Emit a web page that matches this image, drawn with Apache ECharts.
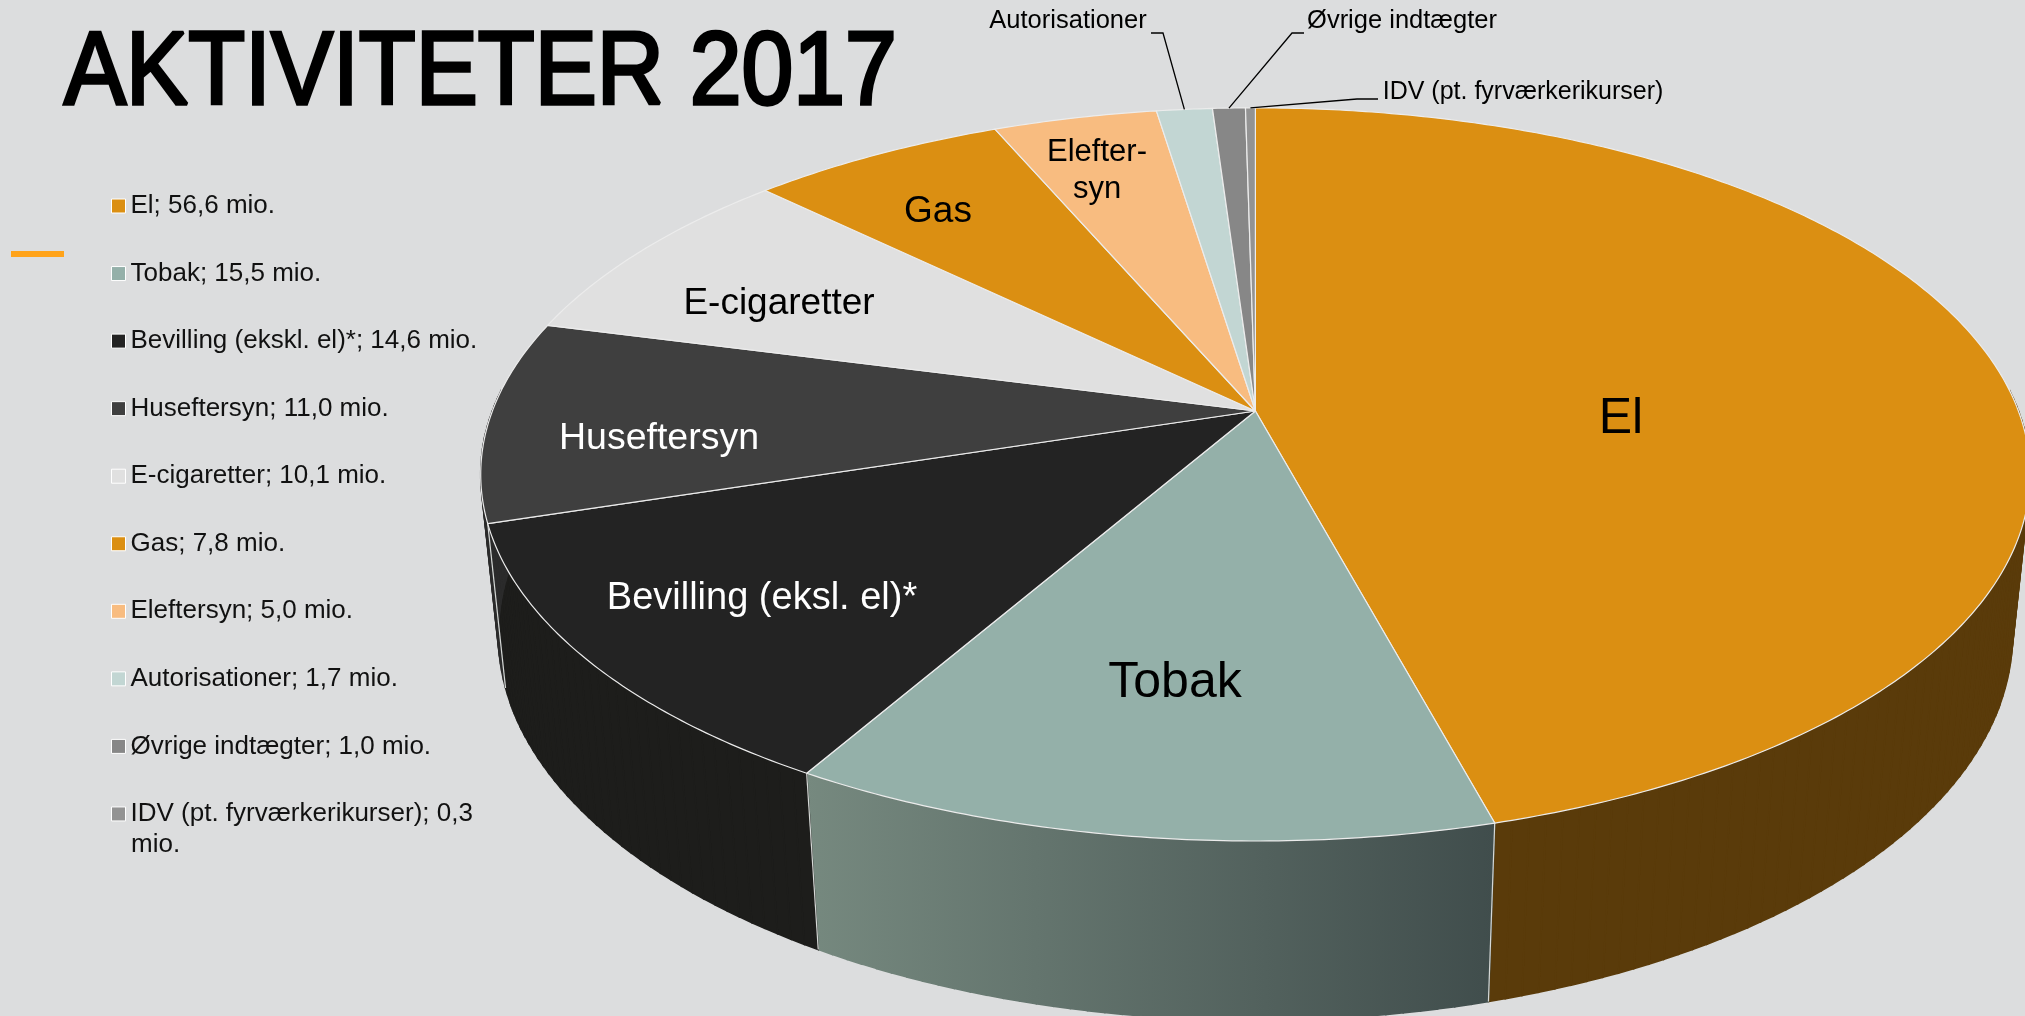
<!DOCTYPE html>
<html>
<head>
<meta charset="utf-8">
<title>Aktiviteter 2017</title>
<script src="https://cdn.jsdelivr.net/npm/echarts@6/dist/echarts.min.js"></script>
<style>
    html, body { margin: 0; padding: 0; background: #dcddde; }
    #chart { width: 2025px; height: 1016px; }
</style>
</head>
<body>
<div id="chart"></div>
<script>
// Chart data
const categories = ['El', 'Tobak', 'Bevilling (ekskl. el)*', 'Huseftersyn', 'E-cigaretter', 'Gas', 'Eleftersyn', 'Autorisationer', 'Øvrige indtægter', 'IDV (pt. fyrværkerikurser)'];
const values = [56.6, 15.5, 14.6, 11.0, 10.1, 7.8, 5.0, 1.7, 1.0, 0.3];
const sliceLabels = ['El', 'Tobak', 'Bevilling (eksl. el)*', 'Huseftersyn', 'E-cigaretter', 'Gas', 'Elefter-\nsyn', 'Autorisationer', 'Øvrige indtægter', 'IDV (pt. fyrværkerikurser)'];

// Styles
const topColors = ['#db8f12', '#94b0a9', '#232323', '#3f3f3f', '#e0e0e0', '#db8f12', '#f8bc80', '#c2d6d3', '#878787', '#939393'];
const wallColors = ['#5a3b0a', null, '#1d1d1b', '#2b2b2b', '#8f8f8f', '#5a3b0a', '#7c5e40', '#61706d', '#444444', '#494949'];
const labelColors = ['#000', '#000', '#fff', '#fff', '#000', '#000', '#000', '#000', '#000', '#000'];
const labelSizes = [50, 50, 38, 37.5, 37, 37, 31, 25.5, 25.5, 25];
const labelPositions = [[1621, 419], [1175, 683], [762, 599], [659, 439], [779, 304], [938, 212], [1097, 171], [1068, 21], [1402, 21], [1523, 92]];
const leaderElbows = { 7: [[1151, 33], [1163, 33]], 8: [[1304, 33], [1292, 33]], 9: [[1378, 99], [1357, 99]] };
const FONT = '"Liberation Sans", Arial, sans-serif';

// Perspective of the tilted disc
const APEX_X = 1255.4, APEX_Y = 411, RADIUS_X = 763, RADIUS_Y = 355.6;
const TILT = 0.173, THICKNESS = 162, DEPTH_SCALE = 0.0225;

const total = values.reduce((a, b) => a + b, 0);
const starts = values.map((v, i) => values.slice(0, i).reduce((a, b) => a + b, 0));
const rows = values.map((v, i) => [v, starts[i]]);

function toAngle(v) {
    return v / total * Math.PI * 2;
}

// angle clockwise from the top, r = 0..1, depth 0 = top face, 1 = bottom face
function project(angle, r, depth) {
    const X = r * Math.sin(angle);
    const Y = -r * Math.cos(angle);
    const w = 1 - TILT * Y + DEPTH_SCALE * depth;
    return [APEX_X + RADIUS_X * X / w, APEX_Y + (RADIUS_Y * Y + THICKNESS * depth) / w];
}

function arcAngles(a0, a1, step) {
    const n = Math.max(2, Math.ceil((a1 - a0) / step));
    const list = [];
    for (let i = 0; i <= n; i++) {
        list.push(a0 + (a1 - a0) * i / n);
    }
    return list;
}

// The back of the wall is hidden, drawing it would only leak along the far rim
function isFrontFacing(angle) {
    return -Math.cos(angle) > -0.05;
}

function renderWall(params, api) {
    const i = params.dataIndex;
    const a0 = toAngle(api.value(1));
    const a1 = toAngle(api.value(1) + api.value(0));
    let fill = wallColors[i];
    if (fill === null) {
        // Tobak wall is lit from the left
        fill = new echarts.graphic.LinearGradient(project(a1, 1, 0)[0], 0, project(a0, 1, 0)[0], 0, [
            { offset: 0, color: '#76897f' },
            { offset: 1, color: '#404d4c' }
        ], true);
    }
    // One quad per step, a single outline would cross itself where the rims meet
    const angles = arcAngles(a0, a1, 0.02);
    const children = [];
    for (let k = 0; k < angles.length - 1; k++) {
        if (!isFrontFacing(angles[k]) && !isFrontFacing(angles[k + 1])) continue;
        children.push({
            type: 'polygon',
            shape: {
                points: [
                    project(angles[k], 1, 0),
                    project(angles[k + 1], 1, 0),
                    project(angles[k + 1], 1, 1),
                    project(angles[k], 1, 1)
                ]
            },
            style: { fill: fill, stroke: fill, lineWidth: 1.6 }
        });
    }
    if (isFrontFacing(a0)) {
        children.push({
            type: 'polyline',
            z2: 1,
            shape: { points: [project(a0, 1, 0), project(a0, 1, 1)] },
            style: { stroke: '#d5d8d6', lineWidth: 1.2, fill: null }
        });
    }
    return { type: 'group', children: children };
}

function renderTop(params, api) {
    const i = params.dataIndex;
    const a0 = toAngle(api.value(1));
    const a1 = toAngle(api.value(1) + api.value(0));
    const points = [project(0, 0, 0)].concat(arcAngles(a0, a1, 0.01).map(a => project(a, 1, 0)));
    return {
        type: 'polygon',
        shape: { points: points },
        style: { fill: topColors[i], stroke: '#ececec', lineWidth: 1.2, lineJoin: 'round' }
    };
}

function renderLabel(params, api) {
    const i = params.dataIndex;
    const children = [{
        type: 'text',
        style: {
            text: sliceLabels[i],
            x: labelPositions[i][0],
            y: labelPositions[i][1],
            fill: labelColors[i],
            fontSize: labelSizes[i],
            fontFamily: FONT,
            lineHeight: labelSizes[i] * 1.17,
            align: 'center',
            verticalAlign: 'middle'
        }
    }];
    if (leaderElbows[i]) {
        const mid = toAngle(api.value(1) + api.value(0) / 2);
        children.push({
            type: 'polyline',
            shape: { points: leaderElbows[i].concat([project(mid, 1, 0)]) },
            style: { stroke: '#000', lineWidth: 1.3, fill: null }
        });
    }
    return { type: 'group', children: children };
}

const chart = echarts.init(document.getElementById('chart'), null, { renderer: 'canvas' });

chart.setOption({
    animation: false,
    backgroundColor: '#dcddde',
    legend: {
        orient: 'vertical',
        left: 111,
        top: 192.5,
        padding: 0,
        itemWidth: 14,
        itemHeight: 14,
        itemGap: 40.55,
        selectedMode: false,
        icon: 'rect',
        data: categories,
        itemStyle: { borderColor: '#ffffff', borderWidth: 1 },
        textStyle: { color: '#111', fontSize: 26, fontFamily: FONT, lineHeight: 27 },
        formatter: function(name) {
            const i = categories.indexOf(name);
            return name + '; ' + values[i].toFixed(1).replace('.', ',') + (i === 9 ? '' : ' mio.');
        }
    },
    graphic: [
        {
            type: 'text',
            x: 64,
            y: 23,
            scaleX: 0.895,
            style: { text: 'AKTIVITETER 2017', fill: '#000', stroke: '#000', lineWidth: 3.5, fontSize: 104, fontFamily: FONT }
        },
        {
            type: 'rect',
            shape: { x: 11, y: 251, width: 53, height: 6 },
            style: { fill: '#ffa31a' }
        },
        {
            type: 'text',
            x: 131,
            y: 832,
            style: { text: 'mio.', fill: '#111', fontSize: 26, fontFamily: FONT }
        }
    ],
    series: [
        {
            // no visible pie, it only feeds the legend
            type: 'pie',
            radius: [0, 0],
            center: [APEX_X, APEX_Y],
            silent: true,
            z: 0,
            label: { show: false },
            labelLine: { show: false },
            data: categories.map((name, i) => ({ name: name, value: values[i], itemStyle: { color: topColors[i] } }))
        },
        { type: 'custom', coordinateSystem: 'none', silent: true, z: 1, renderItem: renderWall, data: rows },
        { type: 'custom', coordinateSystem: 'none', silent: true, z: 2, renderItem: renderTop, data: rows },
        { type: 'custom', coordinateSystem: 'none', silent: true, z: 3, renderItem: renderLabel, data: rows }
    ]
});
</script>
</body>
</html>
